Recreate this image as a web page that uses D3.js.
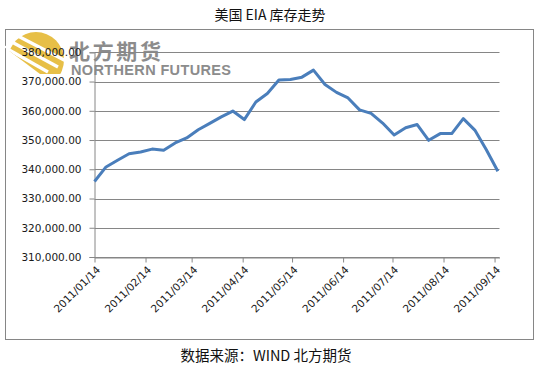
<!DOCTYPE html>
<html>
<head>
<meta charset="utf-8">
<script src="https://cdn.jsdelivr.net/npm/d3@7"></script>
<style>
  body { margin: 0; background: #fff; }
  #chart text { font-family: "DejaVu Sans", sans-serif; }
</style>
</head>
<body>
<div id="chart"></div>
<script>
// weekly EIA crude stocks (thousand barrels), week ending fridays
var weeks = ["2011-01-14","2011-01-21","2011-01-28","2011-02-04","2011-02-11","2011-02-18","2011-02-25",
  "2011-03-04","2011-03-11","2011-03-18","2011-03-25","2011-04-01","2011-04-08","2011-04-15","2011-04-22",
  "2011-04-29","2011-05-06","2011-05-13","2011-05-20","2011-05-27","2011-06-03","2011-06-10","2011-06-17",
  "2011-06-24","2011-07-01","2011-07-08","2011-07-15","2011-07-22","2011-07-29","2011-08-05","2011-08-12",
  "2011-08-19","2011-08-26","2011-09-02","2011-09-09","2011-09-16"];
var stocks = [335800, 340800, 343100, 345300, 345900, 346900, 346500,
  349000, 350700, 353500, 355700, 357900, 359900, 357000, 363000,
  365900, 370500, 370700, 371500, 373900, 369000, 366300, 364400,
  360300, 359100, 355800, 351700, 354200, 355300, 349900, 352200,
  352200, 357300, 353400, 346700, 339300];
var xTicks = ["2011-01-14","2011-02-14","2011-03-14","2011-04-14","2011-05-14",
  "2011-06-14","2011-07-14","2011-08-14","2011-09-14"];
var yTicks = [310000, 320000, 330000, 340000, 350000, 360000, 370000, 380000];

var title = "美国 EIA 库存走势",
    source = "数据来源：WIND 北方期货";

var width = 540, height = 370;
var parse = d3.timeParse("%Y-%m-%d"),
    fmtDate = d3.timeFormat("%Y/%m/%d"),
    fmtVal = d3.format(",.2f");

var data = weeks.map(function(w, i) { return {date: parse(w), value: stocks[i]}; });

var svg = d3.select("#chart").append("svg")
    .attr("width", width)
    .attr("height", height);

// chart frame
svg.append("rect")
    .attr("x", 5.5).attr("y", 29.5)
    .attr("width", 528).attr("height", 310)
    .attr("fill", "#fff")
    .attr("stroke", "#868686");

// watermark logo
var logo = svg.append("g").attr("class", "logo");
logo.append("clipPath").attr("id", "sunclip")
  .append("polygon")
    .attr("points", "0,25 70,25 70,60 64,74 40,74 0,44");
var sun = logo.append("g").attr("clip-path", "url(#sunclip)");
sun.append("circle")
    .attr("cx", 36).attr("cy", 60).attr("r", 28)
    .attr("fill", "#e7bf47");
[[4, 47, 48, 72], [10, 41, 58, 67], [16, 35, 66, 61]].forEach(function(s) {
  sun.append("line")
    .attr("x1", s[0]).attr("y1", s[1]).attr("x2", s[2]).attr("y2", s[3])
    .attr("stroke", "#fff").attr("stroke-width", 3.2);
});
logo.append("text")
    .attr("x", 69).attr("y", 59)
    .style("font-family", "'Noto Sans CJK SC', sans-serif")
    .style("font-weight", "bold")
    .style("font-size", "21px")
    .attr("fill", "#8c8c8c")
    .attr("textLength", 92)
    .text("北方期货");
logo.append("text")
    .attr("x", 71).attr("y", 75)
    .style("font-family", "'Liberation Sans', Arial, sans-serif")
    .style("font-weight", "bold")
    .style("font-size", "14.5px")
    .attr("fill", "#8c8c8c")
    .attr("textLength", 160)
    .text("NORTHERN FUTURES");

var x = d3.scaleTime()
    .domain([parse("2011-01-14"), parse("2011-09-17")])
    .range([94.5, 499.5]);

var y = d3.scaleLinear()
    .domain([310000, 380000])
    .range([257, 52.3]);

// gridlines
svg.append("g")
    .selectAll("line")
    .data(yTicks)
    .enter().append("line")
    .attr("x1", 94.5).attr("x2", 499.5)
    .attr("y1", function(d) { return Math.round(y(d)) + 0.5; })
    .attr("y2", function(d) { return Math.round(y(d)) + 0.5; })
    .attr("stroke", "#868686");

// y axis
var yAxis = svg.append("g")
    .attr("transform", "translate(94.5,0)")
    .call(d3.axisLeft(y).tickValues(yTicks).tickFormat(fmtVal).tickSize(5).tickPadding(8));
yAxis.select(".domain").attr("stroke", "#868686");
yAxis.selectAll(".tick line").attr("stroke", "#868686");
yAxis.selectAll(".tick text")
    .attr("fill", "#1a1a1a")
    .style("font-size", "10.5px");

// x axis
var xAxis = svg.append("g")
    .attr("transform", "translate(0,257.5)")
    .call(d3.axisBottom(x).tickValues(xTicks.map(parse)).tickFormat(fmtDate).tickSize(5).tickSizeOuter(0));
xAxis.select(".domain").attr("stroke", "#868686");
xAxis.selectAll(".tick line").attr("stroke", "#868686");
xAxis.selectAll(".tick text")
    .attr("fill", "#1a1a1a")
    .style("font-size", "10.5px")
    .attr("text-anchor", "end")
    .attr("dy", null)
    .attr("y", 0)
    .attr("transform", "translate(6,13) rotate(-45)");

// the series line
var line = d3.line()
    .x(function(d) { return x(d.date); })
    .y(function(d) { return y(d.value); });

svg.append("path")
    .datum(data)
    .attr("fill", "none")
    .attr("stroke", "#4a7ebb")
    .attr("stroke-width", 3)
    .attr("stroke-linejoin", "round")
    .attr("d", line);

// title and source
svg.append("text")
    .attr("x", 270).attr("y", 20)
    .attr("text-anchor", "middle")
    .style("font-family", "'Noto Sans CJK SC', sans-serif")
    .style("font-size", "14px")
    .attr("fill", "#111")
    .text(title);

svg.append("text")
    .attr("x", 266).attr("y", 361)
    .attr("text-anchor", "middle")
    .style("font-family", "'Noto Sans CJK SC', sans-serif")
    .style("font-size", "14.5px")
    .attr("fill", "#111")
    .text(source);
</script>
</body>
</html>
